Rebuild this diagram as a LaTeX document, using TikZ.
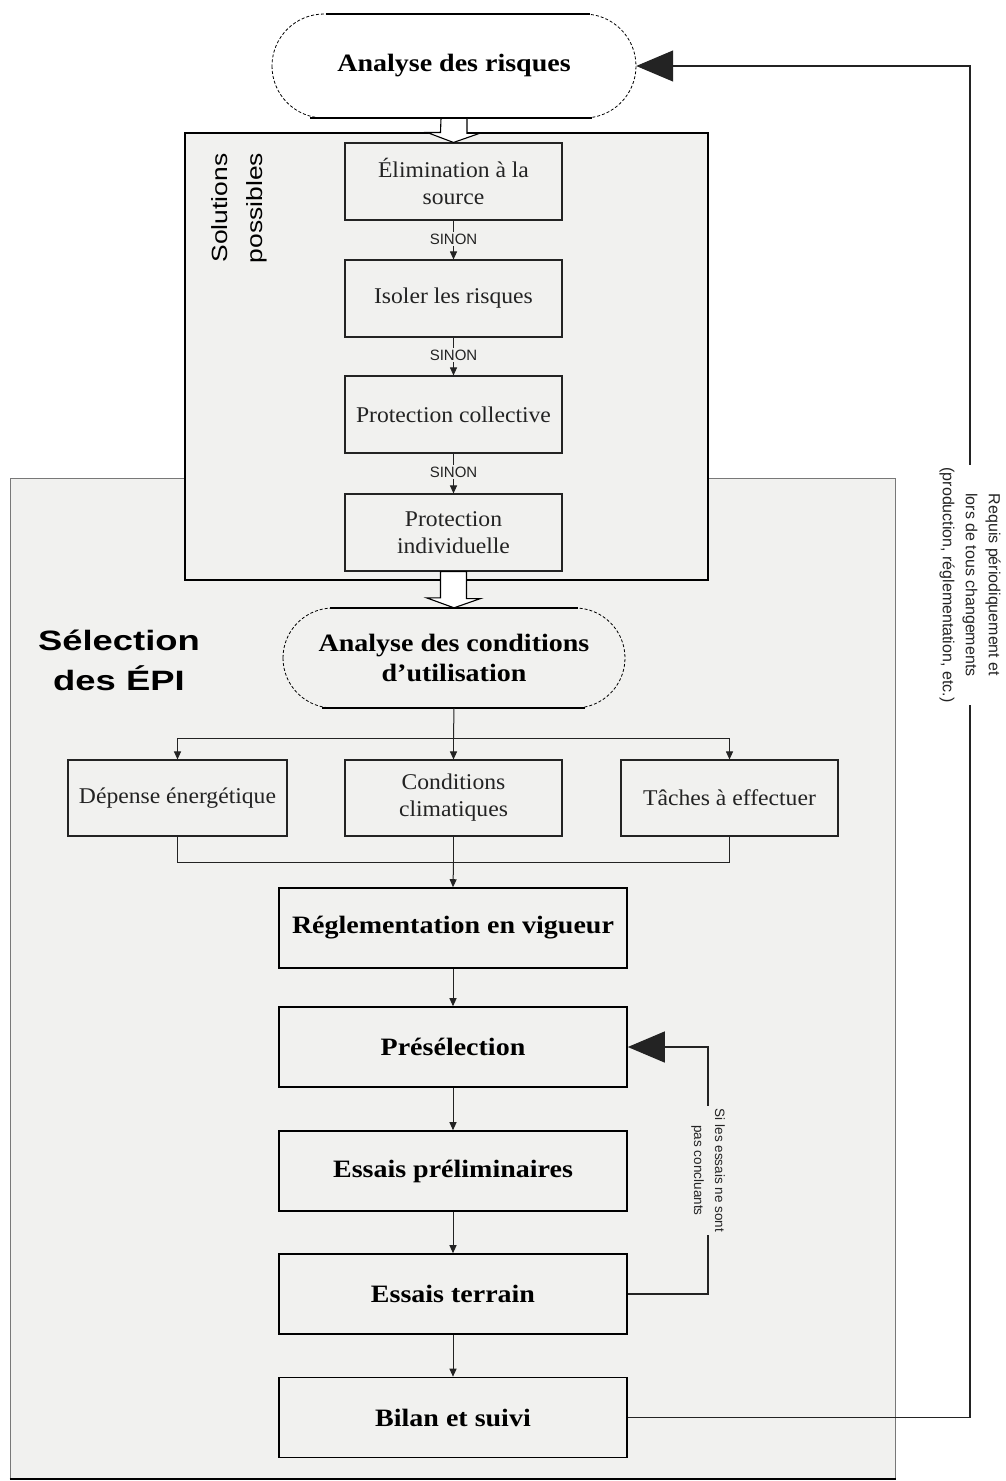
\documentclass[tikz,border=0pt]{standalone}
\usepackage{fontspec}
\setmainfont{Liberation Serif}
\newfontfamily\serifbox{Liberation Serif}[FakeStretch=1.05]
\newfontfamily\serifbold{Liberation Serif}[FakeStretch=1.12]
\newfontfamily\sanslab{Liberation Sans}
\newfontfamily\sanswide{Liberation Sans}[FakeStretch=1.2]
\newfontfamily\sanstitle{Liberation Sans}[FakeStretch=1.3]
\usetikzlibrary{arrows.meta}

\definecolor{panel}{RGB}{241,241,239}
\definecolor{ink}{RGB}{35,35,35}
\definecolor{rim}{RGB}{120,120,120}

\tikzset{
  smallbox/.style={draw=ink, line width=1.1pt, fill=panel, minimum width=217pt,
    minimum height=77pt, inner sep=0pt, align=center, text=ink,
    font=\serifbox\fontsize{22.5}{27}\selectfont},
  stagebox/.style={draw=black, line width=1.6pt, fill=panel, minimum width=348pt,
    minimum height=80pt, inner sep=0pt, align=center,
    font=\serifbold\bfseries\fontsize{25}{30}\selectfont},
  stadiumtext/.style={inner sep=0pt, align=center,
    font=\serifbold\bfseries\fontsize{25}{30}\selectfont},
  flow/.style={draw=ink, line width=1pt, -{Triangle[length=8pt,width=7pt]}},
  link/.style={draw=ink, line width=1pt},
  backloop/.style={draw=ink, line width=1.3pt, -{Triangle[length=37pt,width=31pt]}},
  hollow/.style={draw=black, line width=1.1pt, fill=white, line join=miter},
  sinon/.style={font=\sanslab\fontsize{15}{15}\selectfont, inner sep=1.5pt, text=ink},
}

\begin{document}
\begin{tikzpicture}[x=1pt, y=-1pt]
  \useasboundingbox (0,0) rectangle (1006,1481);
  \fill[white] (0,0) rectangle (1006,1481);

  % ---- large panel: selection of PPE ----
  \node[draw=rim, line width=1pt, fill=panel, minimum width=885pt, minimum height=1000pt,
        inner sep=0pt] (selpanel) at (452.5,978) {};
  \draw[black, line width=2pt] (selpanel.south west) -- (selpanel.south east);

  % ---- panel of possible solutions ----
  \node[draw=black, line width=1.3pt, fill=panel, minimum width=523pt, minimum height=447pt,
        inner sep=0pt] (solpanel) at (446.5,356.5) {};

  % ---- panel titles ----
  \node[rotate=90, align=center, font=\sanswide\fontsize{22}{35}\selectfont] (soltitle)
        at (239,208) {Solutions\\possibles};
  \node[align=center, font=\sanstitle\bfseries\fontsize{28}{40}\selectfont] (seltitle)
        at (119,660) {Sélection\\des ÉPI};

  % ---- risk analysis (stadium) ----
  \draw[black, line width=0.8pt, densely dashed, fill=white, rounded corners=52pt]
        (272,14) rectangle (636,118);
  \draw[black, line width=1.5pt] (326,14) -- (590,14) (310,118) -- (592,118);
  \node[stadiumtext, minimum width=364pt, minimum height=104pt] (risk) at (454,66)
        {Analyse des risques};

  % ---- hierarchy of solutions ----
  \node[smallbox] (elim)   at (453.5,181.5) {Élimination à la\\source};
  \node[smallbox] (isol)   at (453.5,298.5) {Isoler les risques};
  \node[smallbox] (coll)   at (453.5,414.5) {Protection collective};
  \node[smallbox] (indiv)  at (453.5,532.5) {Protection\\individuelle};

  \node[sinon] (s1) at (453.5,239) {SINON};
  \node[sinon] (s2) at (453.5,355) {SINON};
  \node[sinon] (s3) at (453.5,472) {SINON};

  \draw[link] (elim.south) -- (s1.north);
  \draw[flow] (s1.south) -- (isol.north);
  \draw[link] (isol.south) -- (s2.north);
  \draw[flow] (s2.south) -- (coll.north);
  \draw[link] (coll.south) -- (s3.north);
  \draw[flow] (s3.south) -- (indiv.north);

  % ---- hollow arrow from risk analysis to first solution ----
  \draw[hollow] ([xshift=-13pt]risk.south) -- ++(26,0) -- ++(0,15) -- ++(13,0)
        -- (elim.north) -- ++(-26.5,-10) -- ++(13.5,0) -- cycle;

  % ---- conditions of use (stadium) ----
  \draw[black, line width=0.8pt, densely dashed, fill=panel, rounded corners=50pt]
        (283,608) rectangle (625,708);
  \draw[black, line width=1.5pt] (330,608) -- (578,608) (322,708) -- (585,708);
  \node[stadiumtext, minimum width=342pt, minimum height=100pt] (usage) at (454,658)
        {Analyse des conditions\\d’utilisation};

  % ---- hollow arrow from individual protection to conditions of use ----
  \draw[hollow] ([xshift=-13pt]indiv.south) -- ++(26,0) -- ++(0,27) -- ++(14,0)
        -- (usage.north) -- ++(-27.5,-10) -- ++(14,0) -- cycle;

  % ---- three factors ----
  \node[smallbox, minimum width=219pt, minimum height=76pt] (dep)  at (177.5,798) {Dépense énergétique};
  \node[smallbox, minimum width=217pt, minimum height=76pt] (clim) at (453.5,798) {Conditions\\climatiques};
  \node[smallbox, minimum width=217pt, minimum height=76pt] (tach) at (729.5,798) {Tâches à effectuer};

  \coordinate (split) at (453.5,738);
  \coordinate (merge) at (453.5,862);
  \draw[link] (usage.south) -- (split);
  \draw[flow] (split) -| (dep.north);
  \draw[flow] (split) -| (tach.north);
  \draw[flow] (split) -- (clim.north);
  \draw[link] (dep.south) |- (merge);
  \draw[link] (tach.south) |- (merge);
  \draw[link] (clim.south) -- (merge);

  % ---- selection stages ----
  \node[stagebox] (regl)   at (453,928)    {Réglementation en vigueur};
  \node[stagebox] (presel) at (453,1047)   {Présélection};
  \node[stagebox] (prelim) at (453,1171)   {Essais préliminaires};
  \node[stagebox] (terr)   at (453,1294)   {Essais terrain};
  \node[stagebox] (bilan)  at (453,1417.5) {Bilan et suivi};

  \draw[flow] (merge) -- (regl.north);
  \draw[flow] (regl.south) -- (presel.north);
  \draw[flow] (presel.south) -- (prelim.north);
  \draw[flow] (prelim.south) -- (terr.north);
  \draw[flow] (terr.south) -- (bilan.north);

  % ---- feedback when field trials fail ----
  \coordinate (fb1) at (708,1294);
  \coordinate (fb2) at (708,1047);
  \draw[backloop] (terr.east) -- (fb1)
        -- node[pos=0.5, rotate=-90, fill=panel, inner sep=3pt, align=center, text=ink,
                font=\sanslab\fontsize{13.5}{21}\selectfont] (fblabel)
           {Si les essais ne sont\\pas concluants} (fb2)
        -- (presel.east);

  % ---- periodic return to risk analysis ----
  \coordinate (lp1) at (970,1417.5);
  \coordinate (lp2) at (970,66);
  \draw[backloop] (bilan.east) -- (lp1)
        -- node[pos=0.616, rotate=-90, fill=white, inner sep=3pt, align=center, text=ink,
                font=\sanslab\fontsize{16}{23}\selectfont] (looplabel)
           {Requis périodiquement et\\lors de tous changements\\(production, réglementation, etc.)} (lp2)
        -- (risk.east);
\end{tikzpicture}
\end{document}
